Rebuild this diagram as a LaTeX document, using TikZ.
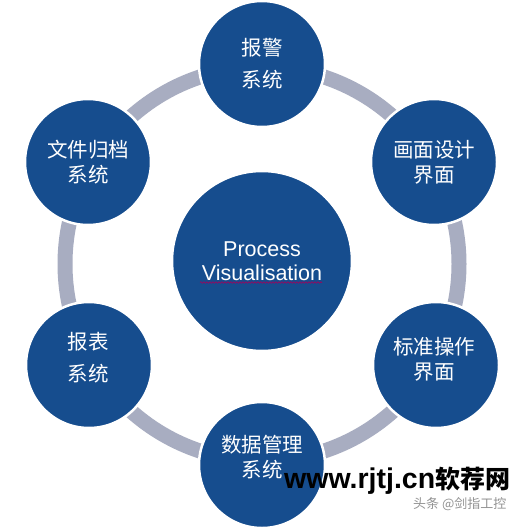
\documentclass[tikz,border=0pt]{standalone}
\usepackage{fontspec}
\setmainfont{Liberation Sans}
\newfontfamily\cjk{Noto Sans CJK SC}
\usetikzlibrary{decorations.pathmorphing}
\definecolor{ringgray}{RGB}{168,173,193}
\definecolor{bubbleblue}{RGB}{22,77,142}
\tikzset{
  bubble/.style={circle, fill=bubbleblue, draw=white, line width=2.5pt, inner sep=0pt, minimum size=126pt},
  hub/.style={circle, fill=bubbleblue, draw=white, line width=2.5pt, inner sep=0pt, minimum size=180pt},
  lblwide/.style={text=white, align=center, font=\cjk\fontsize{20.5}{25}\selectfont, inner sep=0pt},
  lblnarrow/.style={text=white, align=center, font=\cjk\fontsize{20.5}{32}\selectfont, inner sep=0pt},
  hubtext/.style={text=white, align=center, font=\fontsize{21.5}{23.5}\selectfont, inner sep=0pt},
  ring/.style={draw=ringgray, line width=15pt},
  squiggle/.style={draw=red!65!blue, line width=0.6pt, decorate, decoration={snake, amplitude=0.8pt, segment length=3pt}}
}
\begin{document}
\begin{tikzpicture}[x=1pt,y=-1pt]
\useasboundingbox (0,0) rectangle (519,532);
\fill[white] (0,0) rectangle (519,532);
\coordinate (ringc) at (262,264);
\draw[ring] (ringc) circle[radius=197];
% outer bubbles
\node[bubble] (alarm)   at (262,64)  {};
\node[bubble] (design)  at (434,162) {};
\node[bubble] (sop)     at (436,365) {};
\node[bubble] (data)    at (262,465) {};
\node[bubble] (report)  at (89,365)  {};
\node[bubble] (archive) at (88,162)  {};
% hub
\node[hub] (hubc) at (262,261) {};
% labels
\node[lblnarrow] (talarm)   at (262,63.5) {报警\\系统};
\node[lblwide]   (tdesign)  at (434,162)  {画面设计\\界面};
\node[lblwide]   (tsop)     at (434,359)  {标准操作\\界面};
\node[lblwide]   (tdata)    at (262,457)  {数据管理\\系统};
\node[lblnarrow] (treport)  at (88,358)   {报表\\系统};
\node[lblwide]   (tarchive) at (88,162.5) {文件归档\\系统};
\node[hubtext] (thub) at (262,261) {Process\\Visualisation};
\coordinate (sqa) at (200,282.5);
\coordinate (sqb) at (322,282.5);
\draw[squiggle] (sqa) -- (sqb);
% watermark
\node[anchor=base west, inner sep=0pt] (wm) at (284,488)
  {{\fontsize{28.5}{30}\selectfont\bfseries www.rjtj.cn}{\cjk\bfseries\fontsize{25}{30}\selectfont 软荐网}};
\node[anchor=west, inner sep=0pt, text=gray!85, font=\cjk\fontsize{13}{15}\selectfont] (src) at (413,504) {头条 @剑指工控};
\end{tikzpicture}
\end{document}
